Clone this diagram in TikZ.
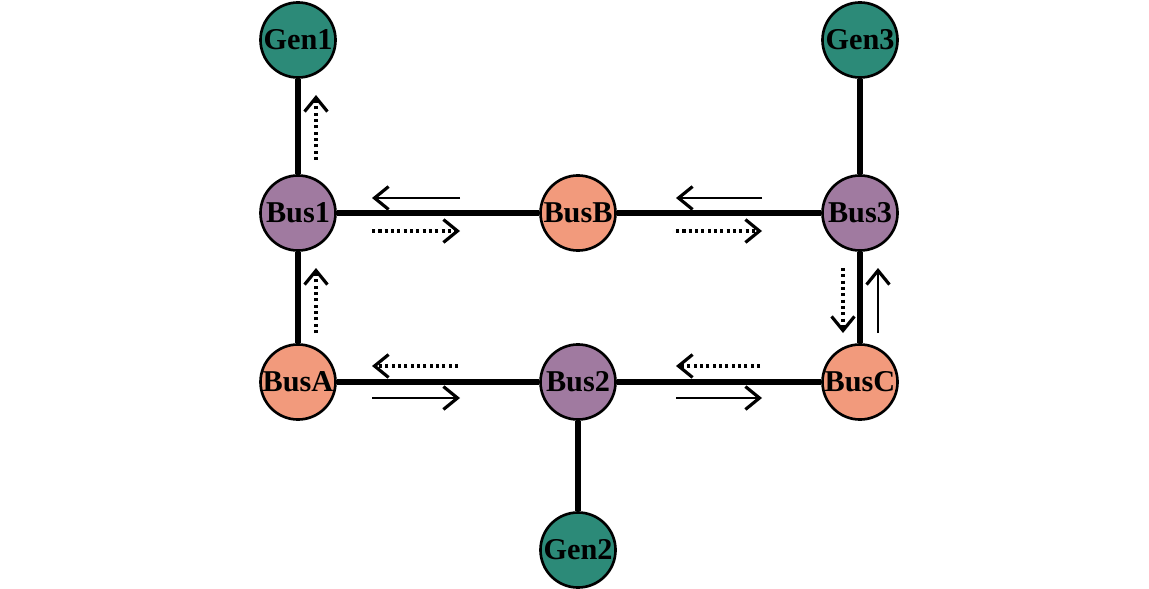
\documentclass[tikz,border=0pt]{standalone}
\usepackage{fontspec}
\setmainfont{Liberation Serif}
\usetikzlibrary{arrows.meta}

\definecolor{genteal}{RGB}{44,138,120}
\definecolor{buspurple}{RGB}{160,122,160}
\definecolor{bussalmon}{RGB}{242,154,124}

\tikzset{
  flowtip/.style={-{Straight Barb[length=4pt,width=6.5pt,line width=0.9pt]}},
  solidflow/.style={flowtip,line width=0.75pt},
  dotflow/.style={flowtip,line width=0.9pt,dash pattern=on 0.9pt off 0.9pt},
}

\begin{document}
\begin{tikzpicture}[x=0.01cm,y=-0.01cm]
      \useasboundingbox (0,0) rectangle (1149,588);

      \begin{scope}[every node/.style={circle,draw,line width=0.75pt,minimum size=0.75cm,inner sep=0pt,
          font=\fontsize{8.6}{10}\selectfont\bfseries}]
        \node[fill=genteal]    (gen1) at (298,40)  {Gen1};
        \node[fill=genteal]    (gen3) at (860,40)  {Gen3};
        \node[fill=buspurple]  (bus1) at (298,213) {Bus1};
        \node[fill=bussalmon]  (busB) at (578,213) {BusB};
        \node[fill=buspurple]  (bus3) at (860,213) {Bus3};
        \node[fill=bussalmon]  (busA) at (298,382) {BusA};
        \node[fill=buspurple]  (bus2) at (578,382) {Bus2};
        \node[fill=bussalmon]  (busC) at (860,382) {BusC};
        \node[fill=genteal]    (gen2) at (578,550) {Gen2};
      \end{scope}

      \begin{scope}[every edge/.style={draw,line width=1.5pt}]
        \path (gen1) edge (bus1);
        \path (gen3) edge (bus3);
        \path (bus1) edge (busB);
        \path (busB) edge (bus3);
        \path (bus1) edge (busA);
        \path (bus3) edge (busC);
        \path (busA) edge (bus2);
        \path (bus2) edge (busC);
        \path (bus2) edge (gen2);
      \end{scope}

      % flow directions
      \coordinate (f1a) at (460,198); \coordinate (f1b) at (372,198);
      \coordinate (f2a) at (372,231); \coordinate (f2b) at (460,231);
      \coordinate (f3a) at (762,198); \coordinate (f3b) at (676,198);
      \coordinate (f4a) at (676,231); \coordinate (f4b) at (762,231);
      \coordinate (f5a) at (458,366); \coordinate (f5b) at (372,366);
      \coordinate (f6a) at (372,398); \coordinate (f6b) at (460,398);
      \coordinate (f7a) at (760,366); \coordinate (f7b) at (676,366);
      \coordinate (f8a) at (676,398); \coordinate (f8b) at (762,398);
      \coordinate (f9a) at (316,160); \coordinate (f9b) at (316,95);
      \coordinate (f10a) at (316,333); \coordinate (f10b) at (316,268);
      \coordinate (f11a) at (843,268); \coordinate (f11b) at (843,333);
      \coordinate (f12a) at (878,333); \coordinate (f12b) at (878,268);

      \draw[solidflow] (f1a) -- (f1b);
      \draw[dotflow]   (f2a) -- (f2b);
      \draw[solidflow] (f3a) -- (f3b);
      \draw[dotflow]   (f4a) -- (f4b);
      \draw[dotflow]   (f5a) -- (f5b);
      \draw[solidflow] (f6a) -- (f6b);
      \draw[dotflow]   (f7a) -- (f7b);
      \draw[solidflow] (f8a) -- (f8b);
      \draw[dotflow]   (f9a) -- (f9b);
      \draw[dotflow]   (f10a) -- (f10b);
      \draw[dotflow]   (f11a) -- (f11b);
      \draw[solidflow] (f12a) -- (f12b);

    \end{tikzpicture}
\end{document}
